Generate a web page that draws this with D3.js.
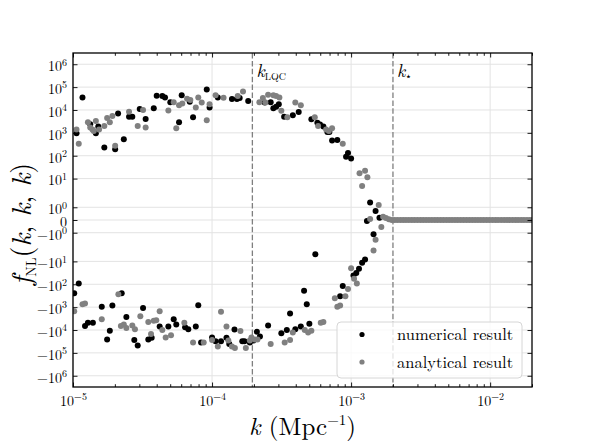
<!DOCTYPE html>
<html>
<head>
<meta charset="utf-8">
<script src="https://cdn.jsdelivr.net/npm/d3@7"></script>
<style>
  body { margin: 0; background: #fff; }
  text { font-family: "Latin Modern Roman", "CMU Serif", "Liberation Serif", serif; }
</style>
</head>
<body>
<div id="chart"></div>
<script>
// numerical result (black dots)
const kNum = [
  1.06e-5, 1.17e-5, 1.33e-5, 1.46e-5, 1.52e-5, 1.68e-5, 2.01e-5, 2.11e-5, 2.32e-5, 2.53e-5,
  2.67e-5, 3.02e-5, 3.33e-5, 3.81e-5, 4.0e-5, 4.39e-5, 4.59e-5, 5.01e-5, 5.79e-5, 6.05e-5,
  6.91e-5, 7.3e-5, 9.16e-5, 9.6e-5, 1.1e-4, 1.39e-4, 1.51e-4, 1.58e-4, 1.82e-4, 2.39e-4,
  2.64e-4, 2.76e-4, 2.89e-4, 3.02e-4, 3.3e-4, 3.81e-4, 4.2e-4, 5.18e-4, 5.72e-4, 5.98e-4,
  6.32e-4, 6.75e-4, 6.98e-4, 7.3e-4, 7.96e-4, 9.2e-4, 9.5e-4, 1.0e-3, 1.37e-3, 1.5e-3,
  1.3e-3, 1.6e-3, 1.45e-3,
  1.02e-5, 1.1e-5, 1.22e-5, 1.28e-5, 1.39e-5, 1.61e-5, 1.76e-5, 1.84e-5, 1.92e-5, 2.24e-5,
  2.42e-5, 2.76e-5, 2.92e-5, 3.19e-5, 3.48e-5, 3.68e-5, 4.2e-5, 4.85e-5, 5.3e-5, 5.53e-5,
  6.4e-5, 6.75e-5, 7.64e-5, 7.96e-5, 8.34e-5, 1.0e-4, 1.06e-4, 1.16e-4, 1.27e-4, 1.33e-4,
  1.45e-4, 1.65e-4, 1.71e-4, 1.87e-4, 1.98e-4, 2.1e-4, 2.21e-4, 2.53e-4, 3.15e-4, 3.45e-4,
  3.64e-4, 3.97e-4, 4.35e-4, 4.59e-4, 4.8e-4, 5.01e-4, 5.53e-4, 8.34e-4, 8.71e-4, 1.04e-3,
  1.09e-3, 1.14e-3, 1.2e-3, 1.26e-3
];
const fNum = [
  9.6e2, 3.5e4, 2.4e3, 9.6e2, 1.9e3, 2.3e2, 1.9e2, 7.1e3, 5.2e2, 5.1e3,
  5.1e3, 1.1e4, 4.0e3, 1.2e4, 4.2e4, 4.1e4, 3.5e4, 2.2e4, 2.9e3, 4.4e4,
  2.3e4, 4.8e3, 7.9e4, 1.3e4, 3.5e4, 3.0e4, 3.0e4, 3.3e4, 2.5e4, 2.1e4,
  2.2e4, 1.2e4, 1.4e4, 1.8e4, 5.1e3, 5.9e3, 8.1e3, 3.9e3, 2.8e3, 2.3e3,
  1.9e3, 1.1e3, 1.1e3, 4.6e2, 4.9e2, 91, 1.3e2, 75, 1.38, 0.71,
  -0.08, 0.18, -1.13,
  -2.5e2, -93, -6.7e3, -4.8e3, -4.8e3, -9.6e2, -2.6e4, -1.07e4, -8.4e2, -2.5e2,
  -2.7e3, -2.7e4, -4.8e4, -1.1e3, -2.6e4, -2.2e4, -7.1e3, -7.1e3, -3.4e3, -5.8e3,
  -7.6e3, -9.3e3, -7.1e3, -8.2e2, -3.5e4, -2.1e4, -3.1e4, -3.1e4, -2.2e4, -4.1e4,
  -9.6e3, -3.1e4, -3.1e4, -3.5e4, -2.9e4, -1.2e4, -1.9e4, -6.3e3, -1.4e4, -1.0e4,
  -1.9e3, -9.3e3, -7.1e3, -1.9e2, -7.4e2, -5.3e3, -4.9, -3.3e2, -1.2e2, -41,
  -32, -21, -11.5, -8.3
];

// analytical result (gray dots)
const kAna = [
  1.06e-5, 1.1e-5, 1.28e-5, 1.33e-5, 1.38e-5, 1.41e-5, 1.46e-5, 1.54e-5, 1.68e-5, 1.76e-5,
  1.84e-5, 1.92e-5, 2.01e-5, 2.53e-5, 2.92e-5, 3.19e-5, 3.33e-5, 4.85e-5, 5.3e-5, 5.53e-5,
  5.79e-5, 6.11e-5, 6.61e-5, 6.98e-5, 7.64e-5, 7.96e-5, 8.43e-5, 9.16e-5, 9.6e-5, 1.06e-4,
  1.21e-4, 1.53e-4, 1.67e-4, 2.19e-4, 2.32e-4, 2.42e-4, 2.53e-4, 2.76e-4, 2.89e-4, 3.05e-4,
  3.15e-4, 3.48e-4, 3.97e-4, 4.35e-4, 5.48e-4, 5.79e-4, 6.61e-4, 6.92e-4, 7.3e-4, 8.71e-4,
  1.15e-3, 1.26e-3, 1.31e-3, 1.2e-3, 1.58e-3, 1.37e-3, 1.65e-3,
  1.02e-5, 1.17e-5, 1.22e-5, 1.61e-5, 2.12e-5, 2.21e-5, 2.32e-5, 2.42e-5, 2.67e-5, 2.79e-5,
  3.05e-5, 3.48e-5, 3.64e-5, 3.81e-5, 3.97e-5, 4.2e-5, 4.39e-5, 4.64e-5, 5.07e-5, 6.32e-5,
  7.3e-5, 8.71e-5, 1.0e-4, 1.1e-4, 1.16e-4, 1.27e-4, 1.31e-4, 1.39e-4, 1.46e-4, 1.6e-4,
  1.75e-4, 1.87e-4, 1.92e-4, 2.03e-4, 2.12e-4, 2.64e-4, 3.33e-4, 3.64e-4, 3.81e-4, 4.64e-4,
  4.91e-4, 5.18e-4, 6.05e-4, 6.32e-4, 7.64e-4, 7.96e-4, 8.34e-4, 9.1e-4, 9.5e-4, 1.0e-3,
  1.05e-3, 1.1e-3, 1.45e-3, 1.5e-3
];
const fAna = [
  1.4e3, 3.3e2, 2.9e3, 1.7e3, 1.4e3, 1.2e3, 3.3e3, 1.4e3, 2.0e3, 4.5e3,
  2.9e3, 5.4e3, 2.7e2, 8.4e3, 2.0e3, 1.0e4, 1.7e3, 9.6e3, 2.2e4, 1.6e3,
  1.6e4, 1.9e4, 3.1e4, 2.7e4, 1.3e4, 3.5e4, 2.1e4, 3.6e3, 1.8e4, 4.4e4,
  3.4e4, 4.1e4, 6.5e4, 2.2e4, 3.3e4, 2.1e4, 4.6e4, 4.4e4, 4.1e4, 3.5e4,
  9.3e3, 4.8e3, 2.1e4, 1.6e4, 4.8e3, 2.0e3, 1.4e3, 1.2e3, 1.6e3, 3.3e2,
  17, 22, 11.5, 4.8, 1.18, 0.08, -0.55,
  -1.5e3, -7.4e2, -6.9e2, -3.4e3, -2.7e2, -6.7e3, -5.8e3, -8.2e3, -6.3e3, -9.3e3,
  -2.5e3, -4.5e3, -1.5e4, -3.9e3, -3.7e3, -1.5e3, -1.0e4, -2.1e4, -1.7e4, -4.8e3,
  -3.5e4, -3.5e4, -2.7e4, -5.3e4, -1.6e3, -7.1e3, -2.9e4, -5.3e4, -6.1e4, -1.1e4,
  -6.1e4, -2.9e4, -2.1e4, -2.6e4, -2.6e4, -4.1e4, -3.5e4, -2.7e4, -1.3e4, -1.0e4,
  -1.3e4, -1.07e4, -4.8e3, -4.5e3, -4.1e2, -9.6e2, -8.4e2, -3.3e2, -1.6e2, -20,
  -58, -93, -3.3, -1.55
];

// analytical result beyond k_star, where f_NL is ~0
const kTail = [
  1.70e-3, 1.78e-3, 1.87e-3, 1.96e-3, 2.05e-3, 2.15e-3, 2.26e-3, 2.37e-3, 2.48e-3, 2.60e-3,
  2.73e-3, 2.86e-3, 3.00e-3, 3.15e-3, 3.30e-3, 3.46e-3, 3.63e-3, 3.81e-3, 4.00e-3, 4.19e-3,
  4.40e-3, 4.61e-3, 4.84e-3, 5.07e-3, 5.32e-3, 5.58e-3, 5.85e-3, 6.14e-3, 6.44e-3, 6.75e-3,
  7.08e-3, 7.43e-3, 7.79e-3, 8.17e-3, 8.57e-3, 8.99e-3, 9.43e-3, 9.89e-3, 1.04e-2, 1.09e-2,
  1.14e-2, 1.20e-2, 1.26e-2, 1.32e-2, 1.38e-2, 1.45e-2, 1.52e-2, 1.59e-2, 1.67e-2, 1.75e-2,
  1.84e-2, 1.93e-2, 2.02e-2
];
const fTail = [
  0.25, 0.15, 0.06, 0, 0, 0, 0, 0, 0, 0,
  0, 0, 0, 0, 0, 0, 0, 0, 0, 0,
  0, 0, 0, 0, 0, 0, 0, 0, 0, 0,
  0, 0, 0, 0, 0, 0, 0, 0, 0, 0,
  0, 0, 0, 0, 0, 0, 0, 0, 0, 0,
  0, 0, 0
];

const kLQC = 1.95e-4, kStar = 2.0e-3;
const xTicks = [1e-5, 1e-4, 1e-3, 1e-2];
const yTicks = [1e6, 1e5, 1e4, 1e3, 1e2, 1e1, 1e0, 0, -1e0, -1e1, -1e2, -1e3, -1e4, -1e5, -1e6];
const seriesNames = ["numerical result", "analytical result"];
const seriesColors = ["#000000", "#808080"];

const width = 590, height = 443;
const margin = {top: 53, right: 58, bottom: 56, left: 73};
const yLim = 3.1e6;

// matplotlib-style symlog: linthresh 2, linscale 1, base 10
const linthresh = 2, linscaleAdj = 1 / (1 - 1 / 10);
function symT(v) {
  const a = Math.abs(v);
  if (a <= linthresh) return v * linscaleAdj;
  return Math.sign(v) * linthresh * (linscaleAdj + Math.log10(a / linthresh));
}

const x = d3.scaleLog()
  .domain([1e-5, 2e-2])
  .range([margin.left, width - margin.right]);
const yLin = d3.scaleLinear()
  .domain([symT(-yLim), symT(yLim)])
  .range([height - margin.bottom, margin.top]);
const y = v => yLin(symT(v));

const svg = d3.select("#chart").append("svg")
  .attr("width", width)
  .attr("height", height);

const x0 = margin.left, x1 = width - margin.right;
const y0 = margin.top, y1 = height - margin.bottom;

svg.append("defs").append("clipPath").attr("id", "plotclip")
  .append("rect").attr("x", x0).attr("y", y0).attr("width", x1 - x0).attr("height", y1 - y0);

// grid
svg.append("g").selectAll("line").data(xTicks).enter().append("line")
  .attr("x1", d => x(d)).attr("x2", d => x(d))
  .attr("y1", y0).attr("y2", y1)
  .attr("stroke", "#e3e3e3").attr("stroke-width", 1);
svg.append("g").selectAll("line").data(yTicks).enter().append("line")
  .attr("x1", x0).attr("x2", x1)
  .attr("y1", d => y(d)).attr("y2", d => y(d))
  .attr("stroke", "#e3e3e3").attr("stroke-width", 1);

// vertical reference lines
svg.append("g").selectAll("line").data([kLQC, kStar]).enter().append("line")
  .attr("x1", d => x(d)).attr("x2", d => x(d))
  .attr("y1", y0).attr("y2", y1)
  .attr("stroke", "#7f7f7f").attr("stroke-width", 1.3)
  .attr("stroke-dasharray", "5.5,2.4");

// dots
const plot = svg.append("g").attr("clip-path", "url(#plotclip)");
const dotR = 3.0;
plot.append("g").selectAll("circle").data(kNum.map((k, i) => [k, fNum[i]])).enter()
  .append("circle")
  .attr("cx", d => x(d[0])).attr("cy", d => y(d[1]))
  .attr("r", dotR).attr("fill", seriesColors[0]);
plot.append("g").selectAll("circle")
  .data(kAna.map((k, i) => [k, fAna[i]]).concat(kTail.map((k, i) => [k, fTail[i]]))).enter()
  .append("circle")
  .attr("cx", d => x(d[0])).attr("cy", d => y(d[1]))
  .attr("r", dotR).attr("fill", seriesColors[1]);

// labels on reference lines
const refLab = svg.append("g").attr("font-size", 18);
const t1 = refLab.append("text").attr("x", x(kLQC) + 4).attr("y", 77);
t1.append("tspan").attr("font-style", "italic").text("k");
t1.append("tspan").attr("font-size", 10).attr("dy", 3).text("LQC");
const t2 = refLab.append("text").attr("x", x(kStar) + 4).attr("y", 77);
t2.append("tspan").attr("font-style", "italic").text("k");
t2.append("tspan").attr("font-size", 11).attr("dy", 3).text("⋆");

// axes
const minorX = x.ticks().filter(d => !xTicks.some(t => Math.abs(t - d) / t < 1e-6));
function styleAxis(g) {
  g.select(".domain").remove();
  g.selectAll(".tick line").attr("stroke", "#000").attr("stroke-width", 0.9);
}
svg.append("g").attr("transform", `translate(0,${y1})`)
  .call(d3.axisBottom(x).tickValues(minorX).tickSize(-2.8).tickFormat("")).call(styleAxis);
svg.append("g").attr("transform", `translate(0,${y0})`)
  .call(d3.axisTop(x).tickValues(minorX).tickSize(-2.8).tickFormat("")).call(styleAxis);
svg.append("g").attr("transform", `translate(0,${y0})`)
  .call(d3.axisTop(x).tickValues(xTicks).tickSize(-4.5).tickFormat("")).call(styleAxis);
const gx = svg.append("g").attr("transform", `translate(0,${y1})`)
  .call(d3.axisBottom(x).tickValues(xTicks).tickSize(-4.5).tickPadding(6)).call(styleAxis);
gx.attr("font-size", 14).attr("font-family", null);
gx.selectAll(".tick text").each(function(d) {
  const t = d3.select(this).text(null).attr("dy", "0.9em");
  t.append("tspan").text("10");
  t.append("tspan").attr("font-size", 10).attr("dy", "-0.55em").text("−" + Math.round(-Math.log10(d)));
});

svg.append("g").attr("transform", `translate(${x1},0)`)
  .call(d3.axisRight(yLin).tickValues(yTicks.map(symT)).tickSize(-4.5).tickFormat("")).call(styleAxis);
const gy = svg.append("g").attr("transform", `translate(${x0},0)`)
  .call(d3.axisLeft(yLin).tickValues(yTicks.map(symT)).tickSize(-4.5).tickPadding(6)).call(styleAxis);
gy.attr("font-size", 14).attr("font-family", null);
gy.selectAll(".tick text").each(function(d, i) {
  const v = yTicks[i];
  const t = d3.select(this).text(null).attr("dy", "0.45em");
  if (v === 0) { t.text("0"); return; }
  t.append("tspan").text((v < 0 ? "−" : "") + "10");
  t.append("tspan").attr("font-size", 10).attr("dy", "-0.55em").text(Math.round(Math.log10(Math.abs(v))));
});

// frame
svg.append("rect")
  .attr("x", x0).attr("y", y0).attr("width", x1 - x0).attr("height", y1 - y0)
  .attr("fill", "none").attr("stroke", "#000").attr("stroke-width", 1.3);

// axis titles
const xl = svg.append("text")
  .attr("x", (x0 + x1) / 2).attr("y", 435)
  .attr("text-anchor", "middle").attr("font-size", 25);
xl.append("tspan").attr("font-style", "italic").text("k");
xl.append("tspan").text(" (Mpc");
xl.append("tspan").attr("font-size", 15).attr("dy", -10).text("−1");
xl.append("tspan").attr("dy", 10).text(")");

const yl = svg.append("text")
  .attr("transform", `translate(31,${(y0 + y1) / 2 + 4}) rotate(-90)`)
  .attr("text-anchor", "middle").attr("font-size", 28);
yl.append("tspan").attr("font-style", "italic").text("f");
yl.append("tspan").attr("font-size", 14).attr("dy", 5).text("NL");
yl.append("tspan").attr("dy", -5).text("(");
yl.append("tspan").attr("font-style", "italic").text("k");
yl.append("tspan").text(", ");
yl.append("tspan").attr("font-style", "italic").text("k");
yl.append("tspan").text(", ");
yl.append("tspan").attr("font-style", "italic").text("k");
yl.append("tspan").text(")");

// legend
const lg = svg.append("g").attr("transform", "translate(337,322)");
lg.append("rect")
  .attr("width", 185).attr("height", 56).attr("rx", 4)
  .attr("fill", "#fff").attr("fill-opacity", 0.8)
  .attr("stroke", "#d6d6d6").attr("stroke-width", 1);
seriesNames.forEach((name, i) => {
  lg.append("circle").attr("cx", 25).attr("cy", 12.5 + i * 27.5)
    .attr("r", 2.6).attr("fill", seriesColors[i]);
  lg.append("text").attr("x", 60).attr("y", 12.5 + i * 27.5).attr("dy", "0.35em")
    .attr("font-size", 16.5).text(name);
});
</script>
</body>
</html>
